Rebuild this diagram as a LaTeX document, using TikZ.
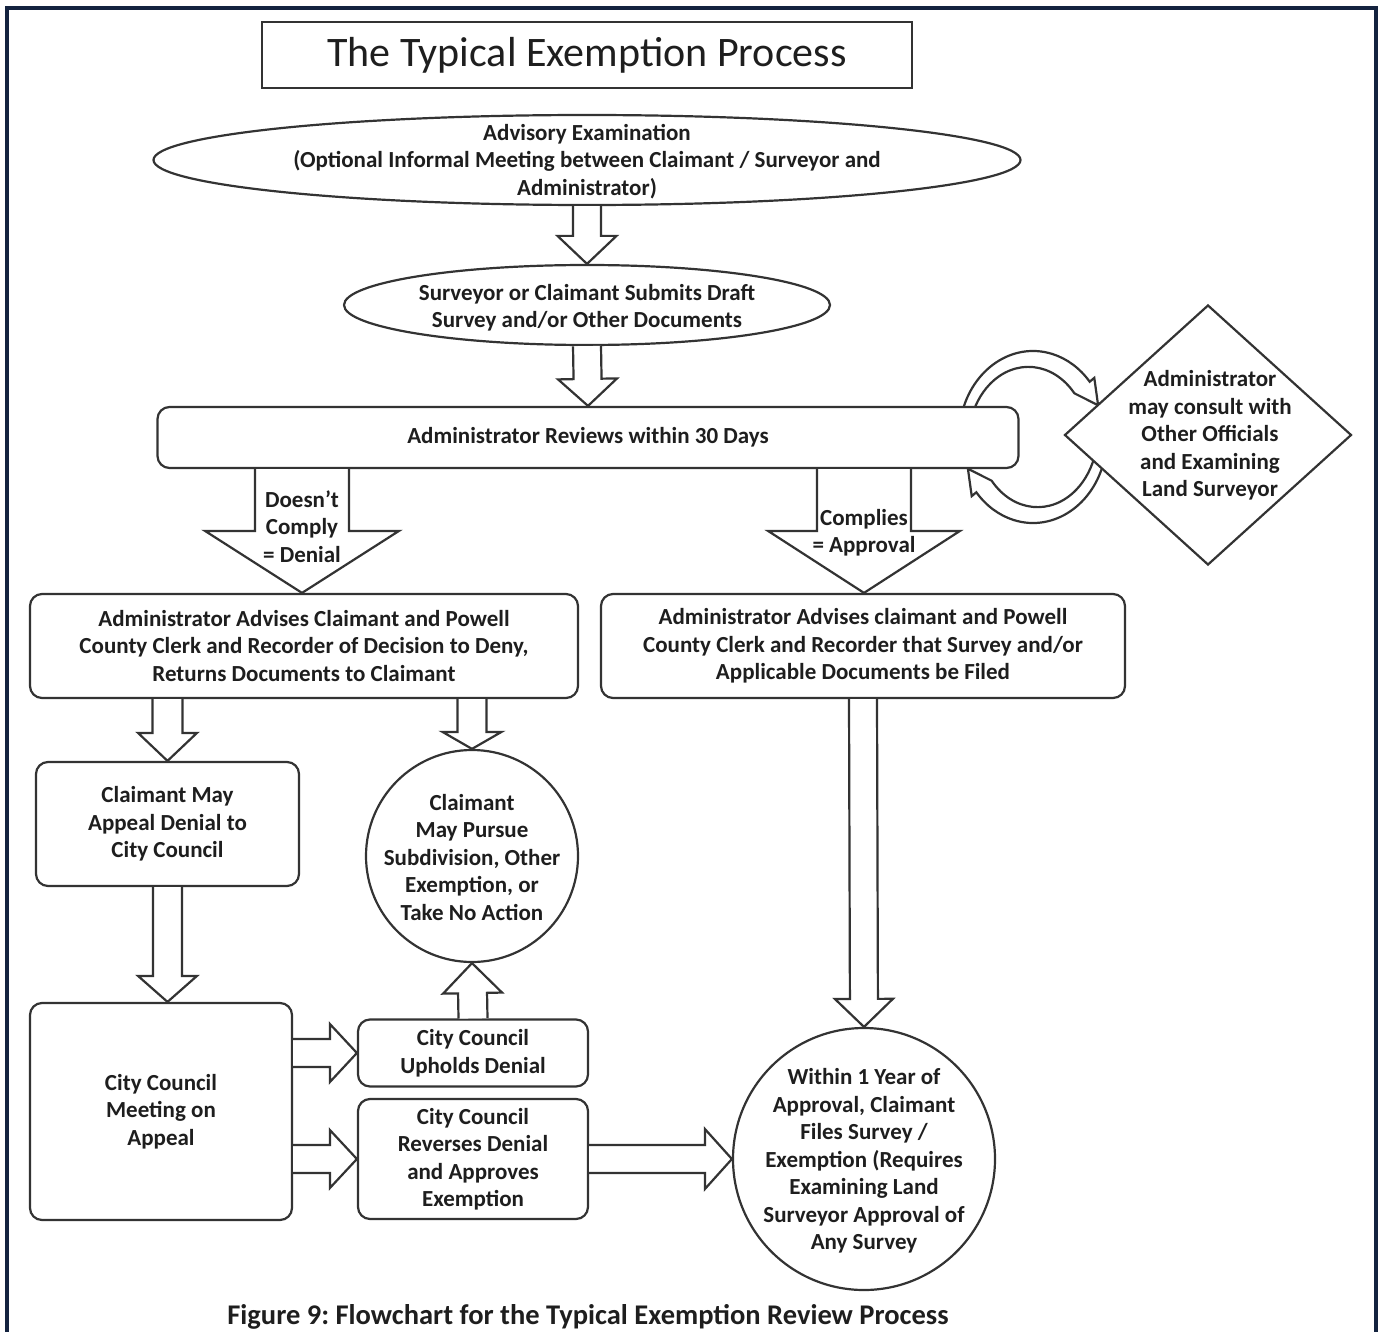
\documentclass[tikz,border=0pt]{standalone}
\usepackage{fontspec}
\setmainfont{Carlito}
\frenchspacing
\usetikzlibrary{shapes.geometric,calc}
\definecolor{linec}{HTML}{333333}
\definecolor{textc}{HTML}{1E1E1E}
\definecolor{framec}{HTML}{14233F}
% block arrow: from, to, shaft half width, head half width, head length
\newcommand{\blockarr}[5]{%
  \draw[barr] let \p1=(#1), \p2=(#2), \n1={atan2(\y2-\y1,\x2-\x1)},
    \p3=($(\p2)+(\n1+180:#5pt)$) in
    ($(\p1)+(\n1+90:#3pt)$) -- ($(\p3)+(\n1+90:#3pt)$) -- ($(\p3)+(\n1+90:#4pt)$)
    -- (\p2) -- ($(\p3)+(\n1-90:#4pt)$) -- ($(\p3)+(\n1-90:#3pt)$) -- ($(\p1)+(\n1-90:#3pt)$);}
\begin{document}
\begin{tikzpicture}[x=1pt,y=-1pt,
  txt/.style={align=center, text=textc, font=\fontsize{23}{27.5}\selectfont\bfseries, inner sep=0pt},
  shp/.style={draw=linec, line width=2.2pt, fill=white, inner sep=0pt},
  rbox/.style={shp, rounded corners=12pt, align=center, text=textc, font=\fontsize{23}{27.5}\selectfont\bfseries},
  barr/.style={draw=linec, line width=2.2pt, fill=white, line join=miter}]
\useasboundingbox (0,0) rectangle (1383,1332);
% outer frame
\draw[framec, line width=4pt] (7,1340) -- (7,8) -- (1376,8) -- (1376,1340);
% title
\node[draw=linec, line width=2.5pt, minimum width=650pt, minimum height=66pt, inner sep=0pt,
  text=textc, font=\fontsize{42}{46}\selectfont] (title) at (587,55) {The Typical Exemption Process};
% ellipses
\node[shp, ellipse, minimum width=867pt, minimum height=90pt] (e1) at (587,160) {};
\node[txt] (e1t) at (587,161.5) {Advisory Examination\\(Optional Informal Meeting between Claimant / Surveyor and\\Administrator)};
\node[shp, ellipse, minimum width=486pt, minimum height=80pt] (e2) at (587,305) {};
\node[txt] (e2t) at (587,307.5) {Surveyor or Claimant Submits Draft\\Survey and/or Other Documents};
% curved arrows (drawn before the box and diamond)
\begin{scope}[shift={(1033,437)}, yscale=-1]
\draw[barr] (165:74 and 86) arc[start angle=165,end angle=40,x radius=74,y radius=86]
  -- (40:80 and 92) -- ($(40:67 and 80)+(-55:24)$) -- (40:54 and 68)
  arc[start angle=40,end angle=165,x radius=60,y radius=74] -- cycle;
\draw[barr] (-15:74 and 86) arc[start angle=-15,end angle=-140,x radius=74,y radius=86]
  -- (-140:80 and 92) -- ($(-140:67 and 80)+(125:24)$) -- (-140:54 and 68)
  arc[start angle=-140,end angle=-15,x radius=60,y radius=74] -- cycle;
\end{scope}
\node[rbox, minimum width=861pt, minimum height=61pt] (rev) at (588,437.5) {Administrator Reviews within 30 Days};
\node[shp, diamond, minimum width=287pt, minimum height=260pt] (dia) at (1208,435) {};
\node[txt] (diat) at (1210,435.5) {Administrator\\may consult with\\Other Officials\\and Examining\\Land Surveyor};
% decision boxes
\node[rbox, minimum width=548pt, minimum height=104pt] (deny) at (304,646)
  {Administrator Advises Claimant and Powell\\County Clerk and Recorder of Decision to Deny,\\Returns Documents to Claimant};
\node[rbox, minimum width=524pt, minimum height=104pt] (appr) at (863,646)
  {Administrator Advises claimant and Powell\\County Clerk and Recorder that Survey and/or\\Applicable Documents be Filed};
\node[rbox, minimum width=263pt, minimum height=124pt] (appeal) at (167.5,824)
  {Claimant May\\Appeal Denial to\\City Council};
\node[shp, circle, minimum size=212pt] (pursue) at (472,856) {};
\node[txt] (pursuet) at (472,857.5) {Claimant\\May Pursue\\Subdivision, Other\\Exemption, or\\Take No Action};
\node[rbox, minimum width=262pt, minimum height=217pt] (meet) at (161,1111.5)
  {City Council\\Meeting on\\Appeal};
\node[rbox, minimum width=230pt, minimum height=67pt] (uph) at (473,1053)
  {City Council\\Upholds Denial};
\node[rbox, minimum width=230pt, minimum height=120pt] (revs) at (473,1159)
  {City Council\\Reverses Denial\\and Approves\\Exemption};
\node[shp, circle, minimum size=262pt] (fin) at (864,1159) {};
\node[txt] (fint) at (864,1161) {Within 1 Year of\\Approval, Claimant\\Files Survey /\\Exemption (Requires\\Examining Land\\Surveyor Approval of\\Any Survey};
% block arrows
\blockarr{e1.south}{e2.north}{14}{29.5}{28}
\blockarr{e2.south}{rev.north}{14}{29.5}{27}
\blockarr{302,0 |- rev.south}{302,0 |- deny.north}{47}{97}{62}
\blockarr{864,0 |- rev.south}{864,0 |- appr.north}{47}{96}{62}
\blockarr{167.5,0 |- deny.south}{appeal.north}{15}{29.5}{28}
\blockarr{472,0 |- deny.south}{pursue.north}{14.5}{29.5}{17}
\blockarr{167.5,0 |- appeal.south}{167.5,0 |- meet.north}{14.5}{29.5}{26}
\blockarr{uph.north}{pursue.south}{14.5}{29.5}{30}
\blockarr{meet.east |- uph.west}{uph.west}{14}{29}{27}
\blockarr{meet.east |- revs.west}{revs.west}{14}{29}{27}
\blockarr{revs.east}{fin.west}{14}{30}{27}
\blockarr{appr.south}{fin.north}{14}{29}{28}
% arrow labels
\node[txt] (dl) at (302,526.5) {Doesn’t\\Comply\\= Denial};
\node[txt] (cl) at (864,532.5) {Complies\\= Approval};
% caption
\node[text=textc, font=\fontsize{28.5}{32}\selectfont\bfseries, inner sep=0pt] (cap) at (588,1317)
  {Figure 9: Flowchart for the Typical Exemption Review Process};
\end{tikzpicture}
\end{document}
